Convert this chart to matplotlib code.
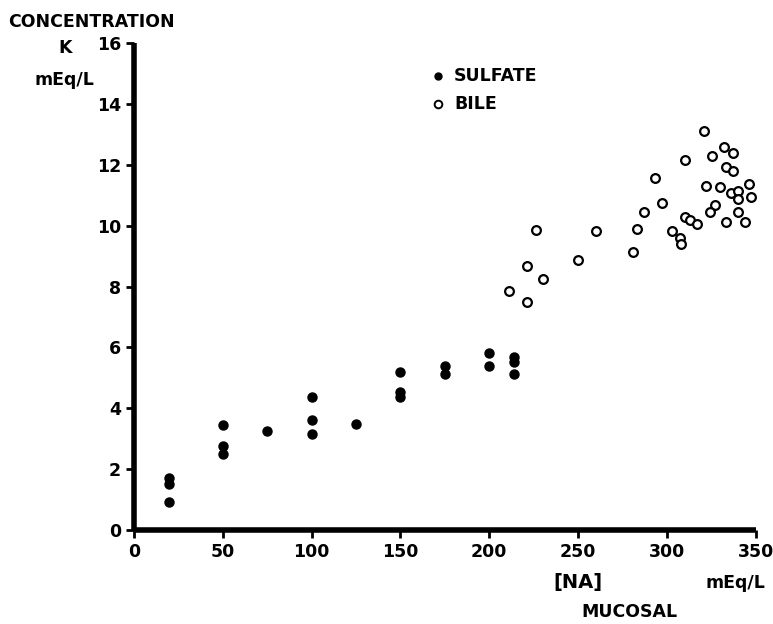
import matplotlib
matplotlib.use('Agg')
import numpy as np
from matplotlib import pyplot as plt

# данные: сульфат
sulfate_x = [20, 20, 20, 50, 50, 50, 75, 100, 100, 100, 125,
             150, 150, 150, 175, 175, 200, 200, 214, 214, 214]
sulfate_y = [1.7, 1.5, 0.92, 3.45, 2.76, 2.5, 3.26, 4.38, 3.62, 3.16, 3.49,
             5.2, 4.54, 4.38, 5.4, 5.13, 5.82, 5.4, 5.69, 5.53, 5.13]

# данные: желчь
bile_x = [226, 260, 221, 250, 230, 211, 221,
          321, 332, 337, 325, 310, 333, 337, 293, 322, 330, 346, 336, 340,
          340, 347, 297, 327, 324, 340, 287, 310, 313, 317, 333, 344,
          283, 303, 307, 308, 281]
bile_y = [9.87, 9.84, 8.68, 8.88, 8.26, 7.86, 7.5,
          13.1, 12.57, 12.4, 12.3, 12.17, 11.94, 11.8, 11.58, 11.3, 11.28, 11.38, 11.08, 11.15,
          10.89, 10.95, 10.76, 10.69, 10.46, 10.46, 10.46, 10.3, 10.2, 10.07, 10.13, 10.13,
          9.9, 9.84, 9.6, 9.41, 9.14]

x_ticks = [0, 50, 100, 150, 200, 250, 300, 350]
y_ticks = [0, 2, 4, 6, 8, 10, 12, 14, 16]

font = {'family': 'DejaVu Sans', 'weight': 'bold', 'size': 12.5}

fig = plt.figure(figsize=(7.73, 6.24), dpi=100)
ax = fig.add_axes([0.173, 0.1506, 0.805, 0.7804])

ax.plot(sulfate_x, sulfate_y, 'o', color='black', markersize=6.5, linestyle='none')
ax.plot(bile_x, bile_y, 'o', markerfacecolor='white', markeredgecolor='black',
        markersize=6.3, markeredgewidth=1.6, linestyle='none')

ax.set_xlim(0, 350)
ax.set_ylim(0, 16)
ax.set_xticks(x_ticks)
ax.set_yticks(y_ticks)
ax.set_xticklabels([str(t) for t in x_ticks], fontdict=font)
ax.set_yticklabels([str(t) for t in y_ticks], fontdict=font)
ax.tick_params(direction='out', length=6, width=2, pad=3)

ax.spines['top'].set_visible(False)
ax.spines['right'].set_visible(False)
for s in ['left', 'bottom']:
    ax.spines[s].set_linewidth(4)
    ax.spines[s].set_capstyle('butt')
ax.patch.set_visible(False)

# легенда вручную
ax.plot([0.489], [0.932], 'o', color='black', markersize=5, transform=ax.transAxes, clip_on=False)
ax.plot([0.489], [0.875], 'o', markerfacecolor='white', markeredgecolor='black',
        markersize=5.5, markeredgewidth=1.4, transform=ax.transAxes, clip_on=False)
ax.text(0.515, 0.932, 'SULFATE', transform=ax.transAxes, va='center', ha='left', **font)
ax.text(0.515, 0.875, 'BILE', transform=ax.transAxes, va='center', ha='left', **font)

# подписи осей
fig.text(0.011, 0.965, 'CONCENTRATION', va='center', ha='left', **font)
fig.text(0.084, 0.923, 'K', va='center', ha='center', **font)
fig.text(0.084, 0.872, 'mEq/L', va='center', ha='center', **font)
fig.text(0.748, 0.066, '[NA]', va='center', ha='center', **{**font, 'size': 14})
fig.text(0.814, 0.02, 'MUCOSAL', va='center', ha='center', **font)
fig.text(0.952, 0.066, 'mEq/L', va='center', ha='center', **font)

fig.savefig('out.png', dpi=100)
